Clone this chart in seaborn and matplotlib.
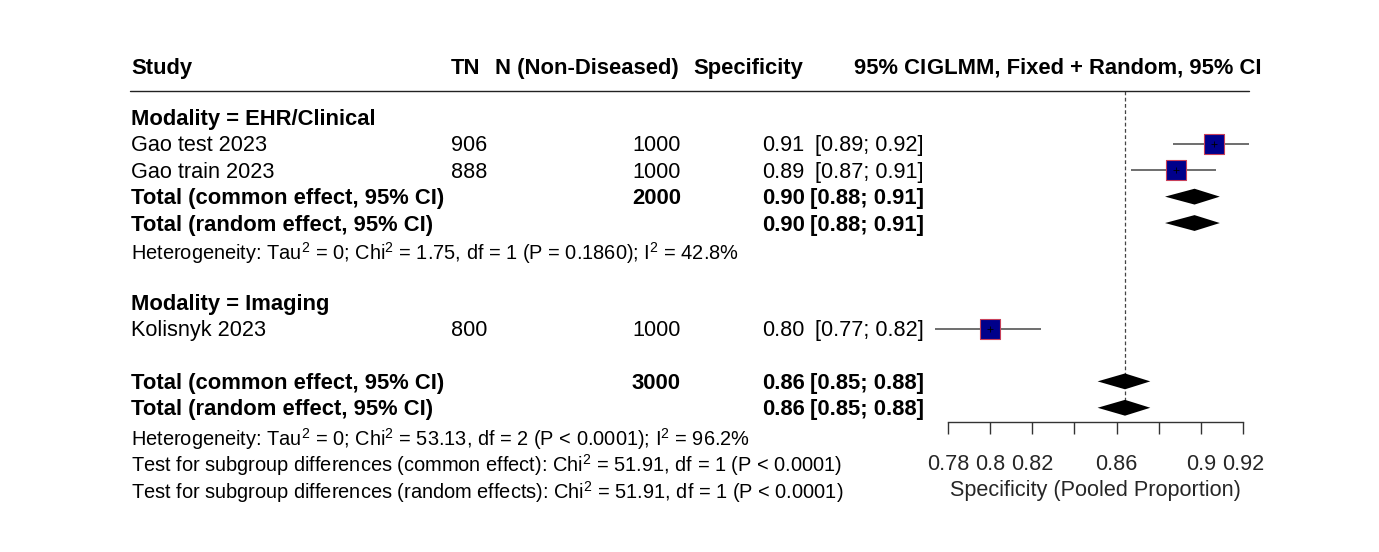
import matplotlib
matplotlib.use("Agg")
import matplotlib.pyplot as plt
import matplotlib.transforms as mtransforms
import numpy as np
import pandas as pd
import seaborn as sns

# study level data
studies = ["Gao test 2023", "Gao train 2023", "Kolisnyk 2023"]
modality = ["EHR/Clinical", "EHR/Clinical", "Imaging"]
tn = [906, 888, 800]
n_nondis = [1000, 1000, 1000]
spec = [0.906, 0.888, 0.800]
ci_low = [0.887, 0.867, 0.774]
ci_high = [0.923, 0.907, 0.824]

# pooled estimates (EHR subgroup, overall)
ehr_est, ehr_low, ehr_high = 0.897, 0.883, 0.909
all_est, all_low, all_high = 0.864, 0.851, 0.876

het_ehr = r"Heterogeneity: Tau$^2$ = 0; Chi$^2$ = 1.75, df = 1 (P = 0.1860); I$^2$ = 42.8%"
het_all = r"Heterogeneity: Tau$^2$ = 0; Chi$^2$ = 53.13, df = 2 (P < 0.0001); I$^2$ = 96.2%"
test_common = r"Test for subgroup differences (common effect): Chi$^2$ = 51.91, df = 1 (P < 0.0001)"
test_random = r"Test for subgroup differences (random effects): Chi$^2$ = 51.91, df = 1 (P < 0.0001)"

x_ticks = [0.78, 0.80, 0.82, 0.84, 0.86, 0.88, 0.90, 0.92]
x_tick_labels = ["0.78", "0.8", "0.82", "", "0.86", "", "0.9", "0.92"]

sns.set_theme(style="white")
plt.rcParams["font.family"] = ["Liberation Sans", "DejaVu Sans"]
plt.rcParams["mathtext.fontset"] = "custom"
plt.rcParams["mathtext.rm"] = "Liberation Sans"
plt.rcParams["mathtext.it"] = "Liberation Sans:italic"
plt.rcParams["mathtext.bf"] = "Liberation Sans:bold"

W, H = 1379, 552
FS = 15.6
FS_BOLD = 15.8
FS_SMALL = 14.4
TXT_DY = 0.08  # text sits a touch lower than the marks

fig = plt.figure(figsize=(W / 100, H / 100), dpi=100)
# forest panel: x from 0.78 (px 948) to 0.92 (px 1243); rows 11.55 (bottom) .. -2.5 (top)
ax = fig.add_axes([948 / W, 0.235, (1243 - 948) / W, 0.6717])
ax.set_xlim(0.78, 0.92)
ax.set_ylim(11.55, -2.5)

df = pd.DataFrame({"study": studies, "modality": modality, "tn": tn, "n": n_nondis,
                   "spec": spec, "lo": ci_low, "hi": ci_high})
df["row"] = [1, 2, 8]

# confidence intervals
ax.hlines(df["row"], df["lo"], df["hi"], color="#555555", lw=1.2, clip_on=False, zorder=2)
sns.scatterplot(data=df, x="spec", y="row", marker="s", s=190, color="#00008B",
                edgecolor="#C8405A", linewidth=0.8, ax=ax, clip_on=False, zorder=3, legend=False)
ax.plot(df["spec"], df["row"], marker="+", ms=4, mew=0.6, color="black", ls="none",
        clip_on=False, zorder=4)


def diamond(row, est, lo, hi, h=0.3):
    ax.fill([lo, est, hi, est], [row, row - h, row, row + h], color="black", lw=0,
            clip_on=False, zorder=3)


diamond(3, ehr_est, ehr_low, ehr_high)
diamond(4, ehr_est, ehr_low, ehr_high)
diamond(10, all_est, all_low, all_high)
diamond(11, all_est, all_low, all_high)

ax.vlines(all_est, -1.02, 11.3, color="#444444", lw=0.9, ls=(0, (3, 2)), zorder=1)

# axis styling
for side in ["top", "right", "left"]:
    ax.spines[side].set_visible(False)
ax.spines["bottom"].set_bounds(0.78, 0.92)
ax.spines["bottom"].set_color("#333333")
ax.spines["bottom"].set_linewidth(1.0)
ax.set_yticks([])
ax.set_ylabel("")
ax.set_xticks(x_ticks)
ax.set_xticklabels(x_tick_labels, fontsize=FS)
ax.tick_params(axis="x", direction="out", length=8.6, width=1.0, color="#333333", pad=14,
               bottom=True)
ax.set_xlabel("Specificity (Pooled Proportion)", fontsize=FS, labelpad=4)
ax.patch.set_alpha(0)

# table text: x in figure pixels, y in row units
trans = mtransforms.blended_transform_factory(fig.transFigure, ax.transData)


def put(xpx, row, s, ha="left", bold=False, fs=None):
    if fs is None:
        fs = FS_BOLD if bold else FS
    fig.text(xpx / W, row + TXT_DY, s, transform=trans, ha=ha, va="center", fontsize=fs,
             fontweight="bold" if bold else "normal", color="black")


hdr = -1.95
put(131, hdr, "Study", bold=True)
put(480, hdr, "TN", ha="right", bold=True)
put(587, hdr, "N (Non-Diseased)", ha="center", bold=True)
put(693, hdr, "Specificity", bold=True)
put(926, hdr, "95% CI", ha="right", bold=True)
put(927, hdr, "GLMM, Fixed + Random, 95% CI", bold=True)

# rule under header
fig.add_artist(plt.Line2D([130 / W, 1249 / W], [1 - 90.5 / H, 1 - 90.5 / H],
                          color="#222222", lw=1.0, transform=fig.transFigure))

put(131, 0, "Modality = EHR/Clinical", bold=True)
put(131, 7, "Modality = Imaging", bold=True)
for _, r in df.iterrows():
    put(131, r["row"], r["study"])
    put(487, r["row"], f"{r['tn']}", ha="right")
    put(681, r["row"], f"{r['n']}", ha="right")
    put(761.7, r["row"], f"{r['spec']:.2f}")
    put(923.5, r["row"], f"[{r['lo']:.2f}; {r['hi']:.2f}]", ha="right")

n_ehr = sum(v for v, m in zip(n_nondis, modality) if m == "EHR/Clinical")
summary_rows = [
    (3, "Total (common effect, 95% CI)", n_ehr, ehr_est, ehr_low, ehr_high),
    (4, "Total (random effect, 95% CI)", None, ehr_est, ehr_low, ehr_high),
    (10, "Total (common effect, 95% CI)", sum(n_nondis), all_est, all_low, all_high),
    (11, "Total (random effect, 95% CI)", None, all_est, all_low, all_high),
]
for row, label, ntot, est, lo, hi in summary_rows:
    put(131, row, label, bold=True)
    if ntot is not None:
        put(681, row, f"{ntot}", ha="right", bold=True)
    put(761.7, row, f"{est:.2f}", bold=True)
    put(923.5, row, f"[{lo:.2f}; {hi:.2f}]", ha="right", bold=True)

put(131, 5.05, het_ehr, fs=FS_SMALL)
put(131, 12.1, het_all, fs=FS_SMALL)
put(131, 13.1, test_common, fs=FS_SMALL)
put(131, 14.12, test_random, fs=FS_SMALL)

fig.savefig("out.png", dpi=100, facecolor="white")
